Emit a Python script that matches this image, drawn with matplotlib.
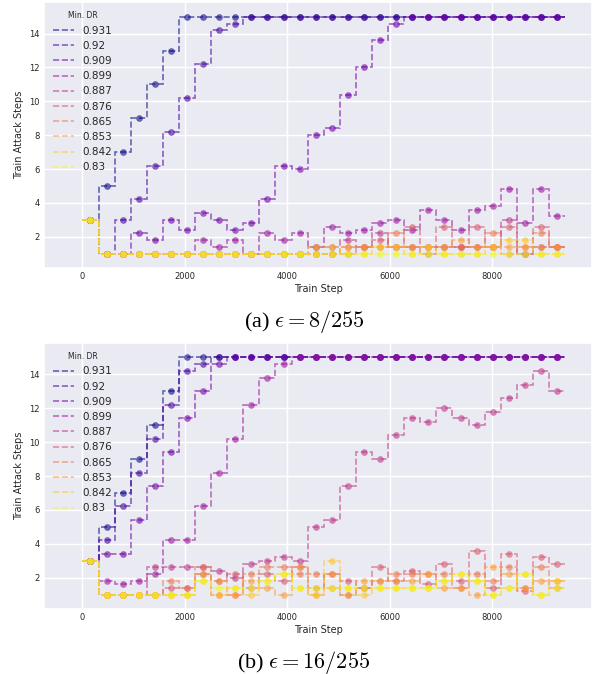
import numpy as np
import matplotlib
matplotlib.use("Agg")
import matplotlib.pyplot as plt
from matplotlib.lines import Line2D
import seaborn as sns

# ---------------- data ----------------
labels = ["0.931", "0.92", "0.909", "0.899", "0.887", "0.876", "0.865", "0.853", "0.842", "0.83"]
bin_width = 314  # train steps per evaluation bin
n_bins = 30
captions = [r"(a) $\epsilon = 8/255$", r"(b) $\epsilon = 16/255$"]
xticks = [0, 2000, 4000, 6000, 8000]
yticks = [2, 4, 6, 8, 10, 12, 14]

# (a) eps = 8/255
a_931 = [3, 5, 7, 9, 11, 13, 15, 15, 15, 15, 15, 15, 15, 15, 15, 15, 15, 15, 15, 15, 15, 15, 15, 15, 15, 15, 15, 15, 15, 15]
a_920 = [3, 1, 3, 4.2, 6.2, 8.2, 10.2, 12.2, 14.2, 14.6, 15, 15, 15, 15, 15, 15, 15, 15, 15, 15, 15, 15, 15, 15, 15, 15, 15, 15, 15, 15]
a_909 = [3, 1, 1, 2.2, 1.8, 3.0, 2.4, 3.4, 3.0, 2.4, 2.8, 4.2, 6.2, 6.0, 8.0, 8.4, 10.4, 12.0, 13.6, 14.6, 15, 15, 15, 15, 15, 15, 15, 15, 15, 15]
a_899 = [3, 1, 1, 1, 1, 1, 1, 1.8, 1.4, 1.8, 1, 2.2, 1.8, 2.2, 1.4, 2.6, 2.2, 2.4, 2.8, 3.0, 2.4, 3.6, 3.0, 2.4, 3.6, 3.8, 4.8, 2.8, 4.8, 3.2]
a_887 = [3, 1, 1, 1, 1, 1, 1, 1, 1, 1, 1, 1, 1, 1, 1.4, 1.4, 1.8, 1.4, 2.2, 1.4, 1.4, 1.4, 1.4, 1.4, 1.4, 1.4, 3.0, 1.0, 1.4, 1.4]
a_876 = [3, 1, 1, 1, 1, 1, 1, 1, 1, 1, 1, 1, 1, 1, 1, 1, 1, 1.4, 1.8, 1.4, 2.6, 1, 2.6, 1.4, 2.6, 1.4, 2.6, 1, 2.6, 1.4]
a_865 = [3, 1, 1, 1, 1, 1, 1, 1, 1, 1, 1, 1, 1, 1, 1, 1, 1.4, 1.4, 1.4, 2.2, 1.4, 1.4, 1.4, 1.4, 1.4, 2.2, 1, 1.4, 2.2, 1.4]
a_853 = [3, 1, 1, 1, 1, 1, 1, 1, 1, 1, 1, 1, 1, 1, 1, 1, 1.4, 1.4, 1.4, 1.4, 1.4, 1.4, 1.4, 1.8, 1.4, 1.4, 1.4, 1.4, 1.4, 1.4]
a_842 = [3, 1, 1, 1, 1, 1, 1, 1, 1, 1, 1, 1, 1, 1, 1.4, 1.4, 1, 1, 1.4, 1.4, 1, 1.4, 1, 1, 1, 1.4, 1.8, 1.8, 1, 1]
a_830 = [3, 1, 1, 1, 1, 1, 1, 1, 1, 1, 1, 1, 1, 1, 1, 1, 1, 1, 1, 1, 1, 1, 1, 1, 1, 1, 1, 1, 1, 1]

# (b) eps = 16/255
b_931 = [3, 5, 7, 9, 11, 13, 15, 15, 15, 15, 15, 15, 15, 15, 15, 15, 15, 15, 15, 15, 15, 15, 15, 15, 15, 15, 15, 15, 15, 15]
b_920 = [3, 4.2, 6.2, 8.2, 10.2, 12.2, 14.2, 14.6, 15, 15, 15, 15, 15, 15, 15, 15, 15, 15, 15, 15, 15, 15, 15, 15, 15, 15, 15, 15, 15, 15]
b_909 = [3, 3.4, 3.4, 5.4, 7.4, 9.4, 11.4, 13.0, 14.6, 15, 15, 15, 15, 15, 15, 15, 15, 15, 15, 15, 15, 15, 15, 15, 15, 15, 15, 15, 15, 15]
b_899 = [3, 1.8, 1.6, 1.8, 2.2, 4.2, 4.2, 6.2, 8.2, 10.2, 12.2, 13.8, 14.6, 15, 15, 15, 15, 15, 15, 15, 15, 15, 15, 15, 15, 15, 15, 15, 15, 15]
b_887 = [3, 1, 1, 1, 2.6, 2.6, 2.6, 2.6, 2.4, 2.0, 2.8, 3.0, 3.2, 3.0, 5.0, 5.4, 7.4, 9.4, 9.0, 10.4, 11.4, 11.2, 12.0, 11.4, 11.0, 11.8, 12.6, 13.4, 14.2, 13.0]
b_876 = [3, 1, 1, 1, 1, 1.4, 1.4, 2.2, 1.8, 2.2, 1.4, 2.2, 1.8, 2.6, 1.4, 2.2, 1.8, 1.4, 2.6, 1.8, 2.4, 1.6, 2.8, 1.8, 3.6, 1.4, 3.4, 1.2, 3.2, 2.8]
b_865 = [3, 1, 1, 1, 1, 1.8, 1.4, 2.6, 1.0, 1.0, 2.2, 2.6, 2.6, 2.2, 2.2, 1.4, 1.0, 1.4, 1.8, 2.2, 2.2, 2.2, 2.2, 1.4, 2.2, 1.8, 2.6, 1.4, 2.6, 1.4]
b_853 = [3, 1, 1, 1, 1, 1, 1, 2.2, 1.8, 1.0, 1.8, 1.4, 1.0, 2.6, 1.0, 2.2, 1.0, 1.8, 1.8, 1.8, 1.8, 2.2, 1.4, 1.4, 1.0, 2.6, 2.2, 1.4, 1.8, 1.8]
b_842 = [3, 1, 1, 1, 1, 1, 1, 1.8, 1.0, 1.4, 1.0, 1.8, 2.2, 1.4, 1.0, 3.0, 1.4, 1.0, 1.4, 1.4, 1.4, 1.4, 1.8, 2.2, 1.8, 1.0, 1.4, 2.2, 1.0, 1.8]
b_830 = [3, 1, 1, 1, 1, 1, 1, 1.8, 1.4, 1.4, 1.4, 1.8, 2.2, 1.4, 1.4, 1.4, 1.4, 1.4, 1.4, 1.4, 1.4, 1.4, 1.8, 2.2, 1.8, 1.0, 1.4, 2.2, 1.0, 1.4]

series_a = [a_931, a_920, a_909, a_899, a_887, a_876, a_865, a_853, a_842, a_830]
series_b = [b_931, b_920, b_909, b_899, b_887, b_876, b_865, b_853, b_842, b_830]

# ---------------- style ----------------
sns.set_theme(style="darkgrid")
plt.rcParams["font.family"] = ["DejaVu Sans"]
plt.rcParams["mathtext.fontset"] = "cm"

colors = plt.cm.plasma(np.linspace(0, 1, len(labels)))
alpha = 0.6

edges = bin_width * np.arange(n_bins + 1)
centers = bin_width * (np.arange(n_bins) + 0.5)

fig = plt.figure(figsize=(5.96, 6.74), dpi=100)
ax_a = fig.add_axes([0.0738, 0.6019, 0.9195, 0.3951])
ax_b = fig.add_axes([0.0738, 0.0960, 0.9195, 0.3955])

for ax, series, cap, ycap in [(ax_a, series_a, captions[0], 0.5227), (ax_b, series_b, captions[1], 0.0178)]:
    for vals, col in zip(series, colors):
        vals = np.asarray(vals, dtype=float)
        ax.stairs(vals, edges, baseline=None, color=col, alpha=alpha,
                  linestyle="--", linewidth=1.2)
        ax.plot(centers, vals, linestyle="none", marker="o", markersize=4.8,
                markeredgewidth=0, color=col, alpha=alpha)
    ax.set_xlim(-750, 9945)
    ax.set_ylim(0.13, 15.87)
    ax.set_xticks(xticks)
    ax.set_yticks(yticks)
    ax.tick_params(axis="both", labelsize=6, pad=3, length=0, colors=".15")
    ax.set_xlabel("Train Step", fontsize=7, labelpad=2, color=".15")
    ax.set_ylabel("Train Attack Steps", fontsize=7, labelpad=4, color=".15")
    handles = [Line2D([0], [0], color=c, alpha=alpha, linestyle="--", linewidth=1.2) for c in colors]
    leg = ax.legend(handles, labels, title="Min. DR", loc="upper left", fontsize=7.5,
                    title_fontsize=5.5, frameon=False, labelspacing=0.5)
    for t in leg.get_texts():
        t.set_color(".15")
    leg.get_title().set_color(".15")
    fig.text(0.51, ycap, cap, ha="center", va="center", fontsize=16,
             family=["Liberation Serif", "DejaVu Serif"], color="black")

fig.savefig("out.png", dpi=100)
